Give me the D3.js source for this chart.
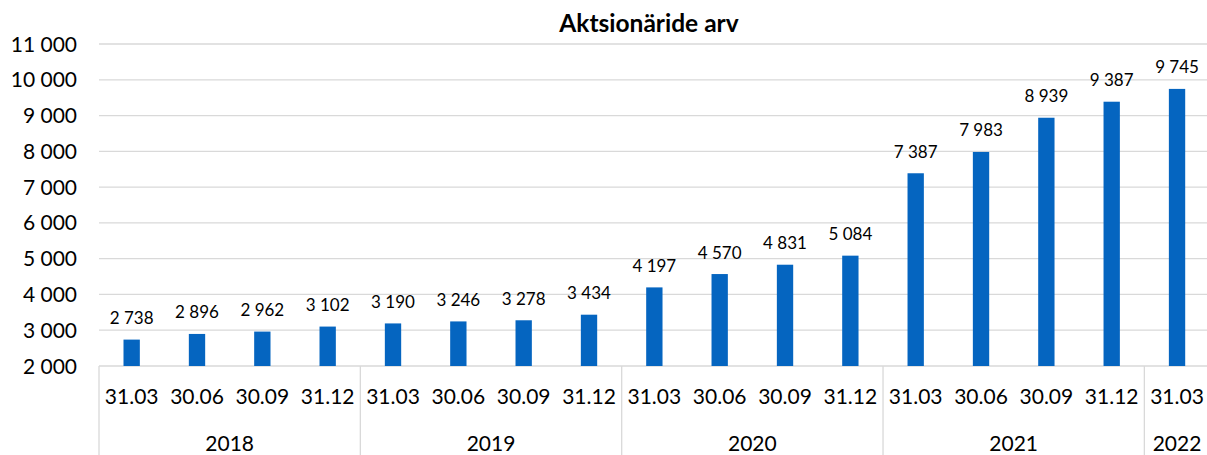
<!DOCTYPE html>
<html>
<head>
<meta charset="utf-8">
<script src="https://cdn.jsdelivr.net/npm/d3@7"></script>
<style>
    body { margin: 0; background: #fff; }
    text { font-family: Lato, "Open Sans", sans-serif; fill: #000; }
    .title { font-weight: bold; font-size: 24.5px; }
    .tick-y { font-size: 21px; }
    .cat { font-size: 21px; }
    .val { font-size: 17px; }
</style>
</head>
<body>
<svg class="chart" width="1207" height="455"></svg>
<script>
var title = "Aktsionäride arv";
var quarters = ["31.03", "30.06", "30.09", "31.12", "31.03", "30.06", "30.09", "31.12",
    "31.03", "30.06", "30.09", "31.12", "31.03", "30.06", "30.09", "31.12", "31.03"];
var quarterYears = [2018, 2018, 2018, 2018, 2019, 2019, 2019, 2019,
    2020, 2020, 2020, 2020, 2021, 2021, 2021, 2021, 2022];
var values = [2738, 2896, 2962, 3102, 3190, 3246, 3278, 3434,
    4197, 4570, 4831, 5084, 7387, 7983, 8939, 9387, 9745];
var years = [2018, 2019, 2020, 2021, 2022];
var yTicks = [2000, 3000, 4000, 5000, 6000, 7000, 8000, 9000, 10000, 11000];

(function () {
    var svg = d3.select(".chart"),
        left = 99,
        right = 1209.7,
        top = 44,
        bottom = 366,
        height = 455;

    var fmt = function (v) {
        return d3.format(",")(v).replace(/,/g, " ");
    };

    var x = d3.scaleBand()
        .domain(d3.range(values.length))
        .range([left, right]);

    var y = d3.scaleLinear()
        .domain([2000, 11000])
        .range([bottom, top]);

    // gridlines
    svg.append("g")
        .selectAll("line")
        .data(yTicks)
        .enter()
        .append("line")
        .attr("x1", left)
        .attr("x2", right)
        .attr("y1", function (d) { return y(d); })
        .attr("y2", function (d) { return y(d); })
        .attr("stroke", "#d9d9d9")
        .attr("stroke-width", 1.3);

    svg.append("g")
        .selectAll("text")
        .data(yTicks)
        .enter()
        .append("text")
        .attr("class", "tick-y")
        .attr("x", 77)
        .attr("y", function (d) { return y(d); })
        .attr("dy", "0.36em")
        .attr("text-anchor", "end")
        .text(fmt);

    // group separators
    var bounds = [0];
    years.forEach(function (yr) {
        var last = quarterYears.lastIndexOf(yr);
        bounds.push(last + 1);
    });

    svg.append("g")
        .selectAll("line")
        .data(bounds.slice(0, -1))
        .enter()
        .append("line")
        .attr("x1", function (d) { return x(d); })
        .attr("x2", function (d) { return x(d); })
        .attr("y1", bottom)
        .attr("y2", height)
        .attr("stroke", "#d9d9d9")
        .attr("stroke-width", 1.3);

    var bw = x.bandwidth() * 0.25;

    svg.append("g")
        .selectAll("rect")
        .data(values)
        .enter()
        .append("rect")
        .attr("x", function (d, i) { return x(i) + (x.bandwidth() - bw) / 2; })
        .attr("y", function (d) { return y(d); })
        .attr("width", bw)
        .attr("height", function (d) { return bottom - y(d); })
        .attr("fill", "#0565c0");

    svg.append("g")
        .selectAll("text")
        .data(values)
        .enter()
        .append("text")
        .attr("class", "val")
        .attr("x", function (d, i) { return x(i) + x.bandwidth() / 2; })
        .attr("y", function (d) { return y(d) - 15.5; })
        .attr("text-anchor", "middle")
        .text(fmt);

    svg.append("g")
        .selectAll("text")
        .data(quarters)
        .enter()
        .append("text")
        .attr("class", "cat")
        .attr("x", function (d, i) { return x(i) + x.bandwidth() / 2; })
        .attr("y", 404)
        .attr("text-anchor", "middle")
        .text(function (d) { return d; });

    svg.append("g")
        .selectAll("text")
        .data(years)
        .enter()
        .append("text")
        .attr("class", "cat")
        .attr("x", function (d, i) {
            var a = x(bounds[i]);
            var b = bounds[i + 1] < values.length ? x(bounds[i + 1]) : right;
            return (a + b) / 2;
        })
        .attr("y", 451)
        .attr("text-anchor", "middle")
        .text(function (d) { return d; });

    svg.append("text")
        .attr("class", "title")
        .attr("x", 649)
        .attr("y", 32)
        .attr("text-anchor", "middle")
        .text(title);
})();
</script>
</body>
</html>
